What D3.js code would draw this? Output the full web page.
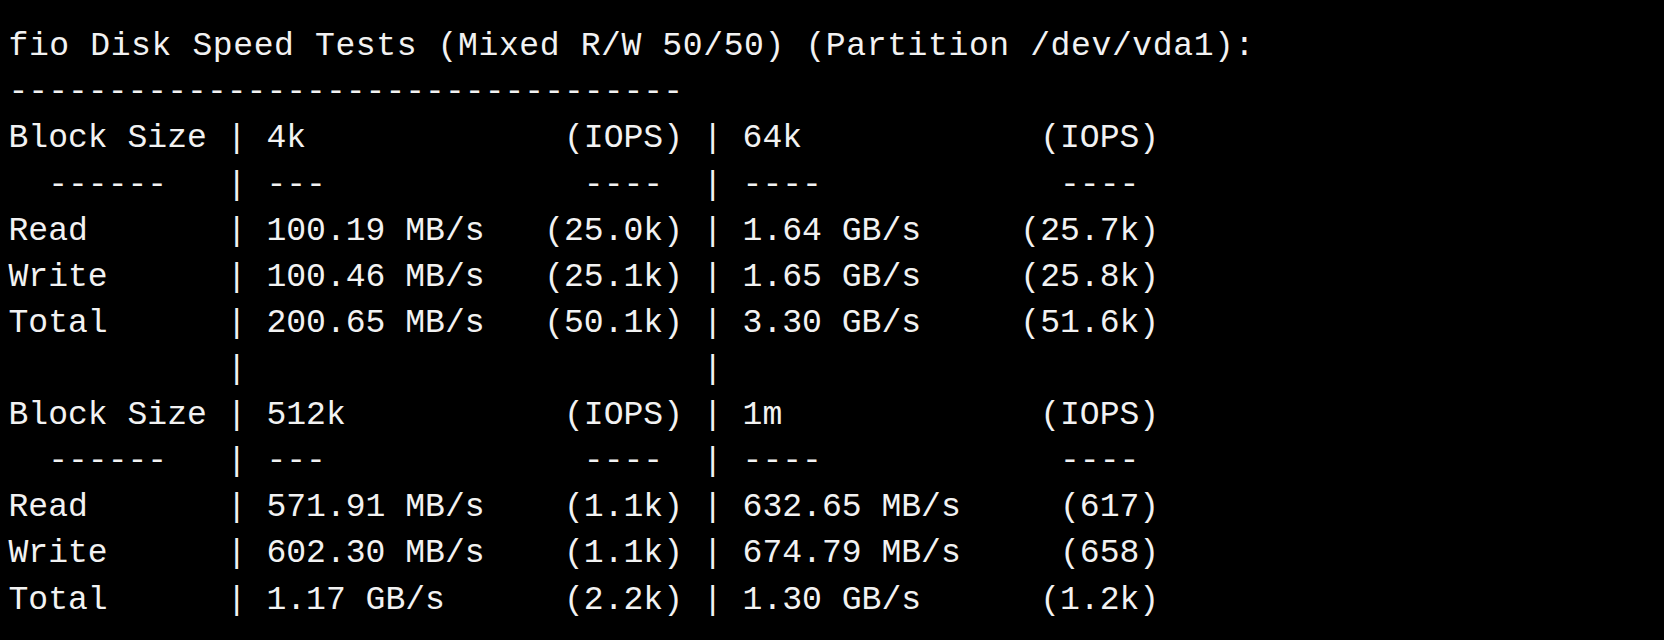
<!DOCTYPE html>
<html>
<head>
<meta charset="utf-8">
<script src="https://cdn.jsdelivr.net/npm/d3@7"></script>
<style>
	html, body { margin: 0; padding: 0; background: #000; overflow: hidden; }
</style>
</head>
<body>
<div id="term"></div>
<script>
const title = 'fio Disk Speed Tests (Mixed R/W 50/50) (Partition /dev/vda1):';
const blockSizes = [['4k', '64k'], ['512k', '1m']];
const rowLabels = ['Read', 'Write', 'Total'];
// speeds and iops, per block-size pair, per row
const speeds = [
	[['100.19 MB/s', '1.64 GB/s'], ['100.46 MB/s', '1.65 GB/s'], ['200.65 MB/s', '3.30 GB/s']],
	[['571.91 MB/s', '632.65 MB/s'], ['602.30 MB/s', '674.79 MB/s'], ['1.17 GB/s', '1.30 GB/s']]
];
const iops = [
	[['(25.0k)', '(25.7k)'], ['(25.1k)', '(25.8k)'], ['(50.1k)', '(51.6k)']],
	[['(1.1k)', '(617)'], ['(1.1k)', '(658)'], ['(2.2k)', '(1.2k)']]
];

const W = 1568, H = 603;
const cw = 18.7;
const lh = 43.45;
const fw = 21;

const field = (left, right) => left + ' '.repeat(fw - left.length - right.length) + right;
const lineOf = (label, a, b) => label.padEnd(10) + ' | ' + a + ' | ' + b;

const lines = [title, '-'.repeat(34)];
blockSizes.forEach((bs, g) => {
	if (g > 0) lines.push(' '.repeat(11) + '|' + ' '.repeat(23) + '|');
	lines.push(lineOf('Block Size', field(bs[0], '(IOPS)'), field(bs[1], '(IOPS)')));
	lines.push(lineOf('  ------', field('---', '---- '), field('----', '---- ')));
	rowLabels.forEach((r, i) => {
		lines.push(lineOf(r, field(speeds[g][i][0], iops[g][i][0]), field(speeds[g][i][1], iops[g][i][1])));
	});
});

const y = d3.scaleLinear().domain([0, lines.length - 1]).range([52, 52 + lh * (lines.length - 1)]);

const svg = d3.select('#term').append('svg')
	.attr('width', 1664)
	.attr('height', 640)
	.attr('viewBox', `0 0 ${W} ${H}`)
	.attr('preserveAspectRatio', 'none');

svg.append('rect').attr('width', W).attr('height', H).attr('fill', '#000');

svg.selectAll('text.line')
	.data(lines)
	.join('text')
	.attr('class', 'line')
	.attr('x', 8)
	.attr('y', (d, i) => y(i))
	.attr('xml:space', 'preserve')
	.style('white-space', 'pre')
	.attr('font-family', '"Liberation Mono", "DejaVu Sans Mono", monospace')
	.attr('font-size', cw / 0.6)
	.attr('fill', '#f2f2f2')
	.text(d => d)
	.filter((d, i) => i === 0)
	.attr('textLength', 1174)
	.attr('lengthAdjust', 'spacing');
</script>
</body>
</html>
